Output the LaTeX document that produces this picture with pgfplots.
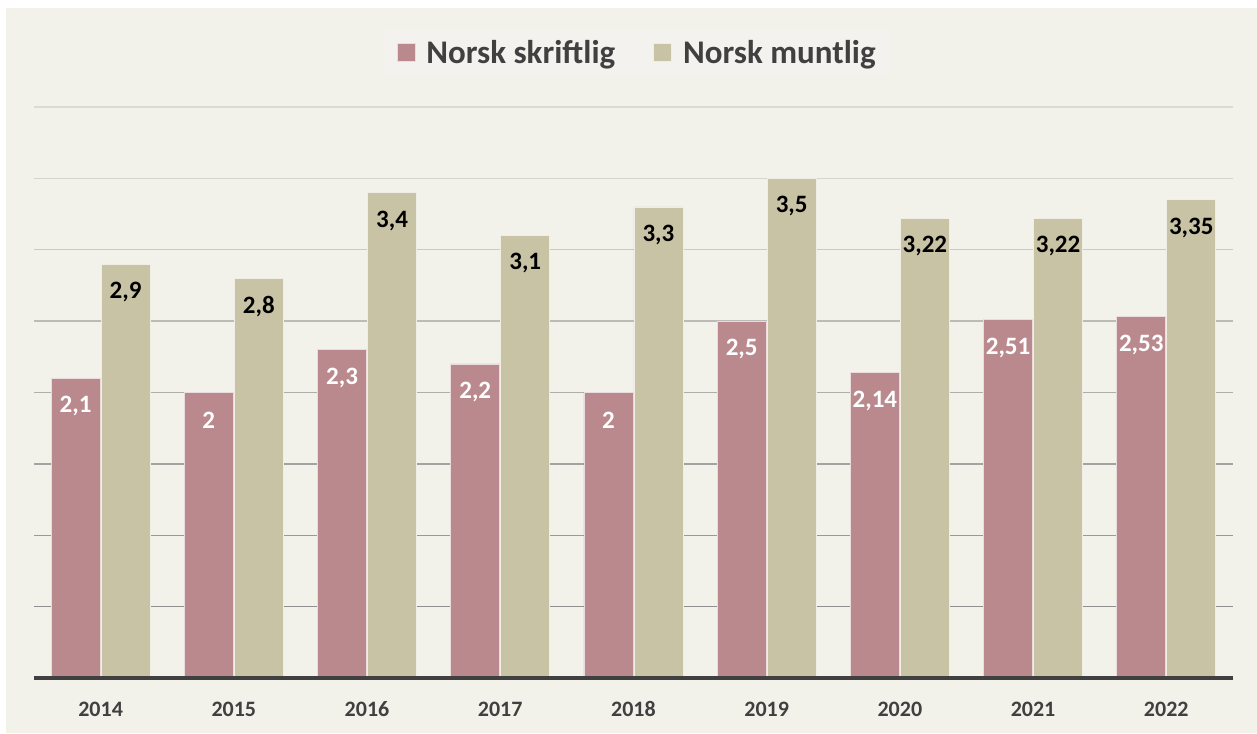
\documentclass[border=0pt]{standalone}
\usepackage{pgfplots}
\pgfplotsset{compat=1.18}
\usepackage{fontspec}
\setmainfont{Carlito}
\definecolor{bgc}{HTML}{F2F1EA}
\definecolor{pinkc}{HTML}{BA898D}
\definecolor{khakic}{HTML}{C9C3A5}
\definecolor{txtc}{HTML}{404040}
\definecolor{legbg}{HTML}{F3F2EE}
\definecolor{g1}{HTML}{8F8F8F}
\definecolor{g2}{HTML}{999999}
\definecolor{g3}{HTML}{A3A3A2}
\definecolor{g4}{HTML}{AEAEAC}
\definecolor{g5}{HTML}{BCBBB8}
\definecolor{g6}{HTML}{CAC9C4}
\definecolor{g7}{HTML}{D4D3CD}
\definecolor{g8}{HTML}{DCDAD4}
\begin{document}
\begin{tikzpicture}[x=1pt,y=1pt]
\fill[white] (0,0) rectangle (1257,733);
\fill[bgc] (6,0) rectangle (1257,725);
\begin{axis}[
  at={(34pt,55pt)}, anchor=south west,
  width=1199pt, height=571pt, scale only axis,
  xmin=-0.5, xmax=8.5, ymin=0, ymax=4,
  ybar=1pt, bar width=49pt,
  axis line style={draw=none},
  xtick={0,...,8},
  xticklabels={2014,2015,2016,2017,2018,2019,2020,2021,2022},
  xticklabel style={font=\fontsize{22}{26}\selectfont\bfseries, text=txtc, inner sep=0pt, anchor=base, yshift=-38pt},
  major tick length=0pt,
  ytick=\empty,
  clip=false,
  legend image code/.code={\fill[#1] (0pt,-9pt) rectangle (18pt,9pt); \path (27pt,0pt);},
  legend columns=2,
  legend style={at={(0.503,1.096)}, anchor=center, draw=none, fill=legbg,
    font=\fontsize{33}{38}\selectfont\bfseries, text=txtc,
    /tikz/every even column/.append style={column sep=36pt},
    inner xsep=12pt, inner ysep=8pt},
  nodes near coords={\pgfmathprintnumber[use comma, assume math mode=true, precision=2]{\pgfplotspointmeta}},
  every node near coord/.append style={font=\fontsize{25}{29}\selectfont\bfseries, anchor=center, yshift=-28pt},
]
\draw[g1, line width=1.3pt] (axis cs:-0.5,0.5) -- (axis cs:8.5,0.5);
\draw[g2, line width=1.3pt] (axis cs:-0.5,1.0) -- (axis cs:8.5,1.0);
\draw[g3, line width=1.3pt] (axis cs:-0.5,1.5) -- (axis cs:8.5,1.5);
\draw[g4, line width=1.3pt] (axis cs:-0.5,2.0) -- (axis cs:8.5,2.0);
\draw[g5, line width=1.3pt] (axis cs:-0.5,2.5) -- (axis cs:8.5,2.5);
\draw[g6, line width=1.3pt] (axis cs:-0.5,3.0) -- (axis cs:8.5,3.0);
\draw[g7, line width=1.3pt] (axis cs:-0.5,3.5) -- (axis cs:8.5,3.5);
\draw[g8, line width=1.3pt] (axis cs:-0.5,4.0) -- (axis cs:8.5,4.0);
\addplot[fill=pinkc, draw=white!70!pinkc, line width=0.8pt,
  every node near coord/.append style={text=white}]
  coordinates {(0,2.1) (1,2) (2,2.3) (3,2.2) (4,2) (5,2.5) (6,2.14) (7,2.51) (8,2.53)};
\addplot[fill=khakic, draw=white!70!khakic, line width=0.8pt,
  every node near coord/.append style={text=black}]
  coordinates {(0,2.9) (1,2.8) (2,3.4) (3,3.1) (4,3.3) (5,3.5) (6,3.22) (7,3.22) (8,3.35)};
\draw[txtc, line width=3.5pt] (axis cs:-0.5,0) -- (axis cs:8.5,0);
\legend{Norsk skriftlig, Norsk muntlig}
\end{axis}
\end{tikzpicture}
\end{document}
